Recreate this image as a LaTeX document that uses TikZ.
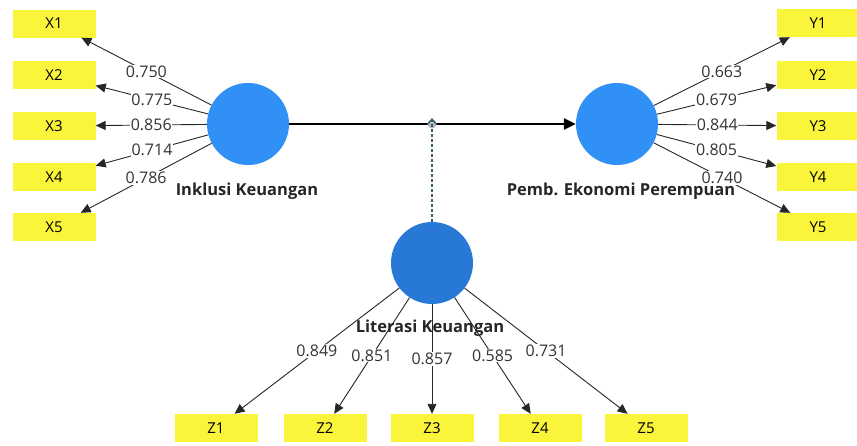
\documentclass[tikz,border=0pt]{standalone}
\usepackage{fontspec}
\setmainfont{Open Sans}
\usetikzlibrary{arrows.meta}
\definecolor{boxyellow}{RGB}{250,244,58}
\definecolor{lvlight}{RGB}{48,144,246}
\definecolor{lvdark}{RGB}{40,120,214}
\definecolor{modline}{RGB}{50,95,110}
\begin{document}
\begin{tikzpicture}[x=1pt,y=-1pt,
  ind/.style={rectangle,fill=boxyellow,minimum width=83pt,minimum height=28pt,inner sep=0pt,font=\fontsize{15}{16}\selectfont},
  lv/.style={circle,minimum size=82pt,inner sep=0pt},
  lvname/.style={font=\fontsize{16.5}{18}\selectfont\bfseries,inner sep=0pt,text=black!85},
  load/.style={draw=black!85,line width=0.9pt,-{Triangle[length=10pt,width=9pt]}},
  lab/.style={fill=white,inner sep=0.8pt,font=\fontsize{16}{17}\selectfont,text=black!80}]
\useasboundingbox (0,0) rectangle (857,445);
% indicator boxes
\node[ind] (X1) at (54,23.5) {X1};
\node[ind] (X2) at (54,75) {X2};
\node[ind] (X3) at (54,126) {X3};
\node[ind] (X4) at (54,177) {X4};
\node[ind] (X5) at (54,227) {X5};
\node[ind] (Y1) at (818,23) {Y1};
\node[ind] (Y2) at (818,75) {Y2};
\node[ind] (Y3) at (818,126) {Y3};
\node[ind] (Y4) at (818,177) {Y4};
\node[ind] (Y5) at (818,227) {Y5};
\node[ind] (Z1) at (216,428) {Z1};
\node[ind] (Z2) at (325,428) {Z2};
\node[ind] (Z3) at (432,428) {Z3};
\node[ind] (Z4) at (540,428) {Z4};
\node[ind] (Z5) at (646,428) {Z5};
% latent variables
\node[lv,fill=lvlight] (IK) at (248,124) {};
\node[lv,fill=lvlight] (PE) at (617,124) {};
\node[lv,fill=lvdark] (LK) at (432,263) {};
% names
\node[lvname] (nIK) at (247,191) {Inklusi Keuangan};
\node[lvname] (nPE) at (621,191) {Pemb. Ekonomi Perempuan};
\node[lvname] (nLK) at (430,328) {Literasi Keuangan};
% structural path
\draw[line width=2.4pt,-{Triangle[length=12pt,width=11pt]}] (IK) -- (PE);
\coordinate (mod) at (432,124);
\fill[gray!55] (mod) circle (4.5pt);
\draw[modline,line width=1.8pt,dash pattern=on 3pt off 2pt,-{Straight Barb[length=5pt,width=8pt,line width=1.2pt]}] (LK) -- ([yshift=6pt]mod);
% loadings
\draw[load] (IK) -- node[lab] {0.750} (X1);
\draw[load] (IK) -- node[lab] {0.775} (X2);
\draw[load] (IK) -- node[lab] {0.856} (X3);
\draw[load] (IK) -- node[lab] {0.714} (X4);
\draw[load] (IK) -- node[lab] {0.786} (X5);
\draw[load] (PE) -- node[lab] {0.663} (Y1);
\draw[load] (PE) -- node[lab] {0.679} (Y2);
\draw[load] (PE) -- node[lab] {0.844} (Y3);
\draw[load] (PE) -- node[lab] {0.805} (Y4);
\draw[load] (PE) -- node[lab] {0.740} (Y5);
\draw[load] (LK) -- node[lab] {0.849} (Z1);
\draw[load] (LK) -- node[lab] {0.851} (Z2);
\draw[load] (LK) -- node[lab] {0.857} (Z3);
\draw[load] (LK) -- node[lab] {0.585} (Z4);
\draw[load] (LK) -- node[lab] {0.731} (Z5);
\end{tikzpicture}
\end{document}
